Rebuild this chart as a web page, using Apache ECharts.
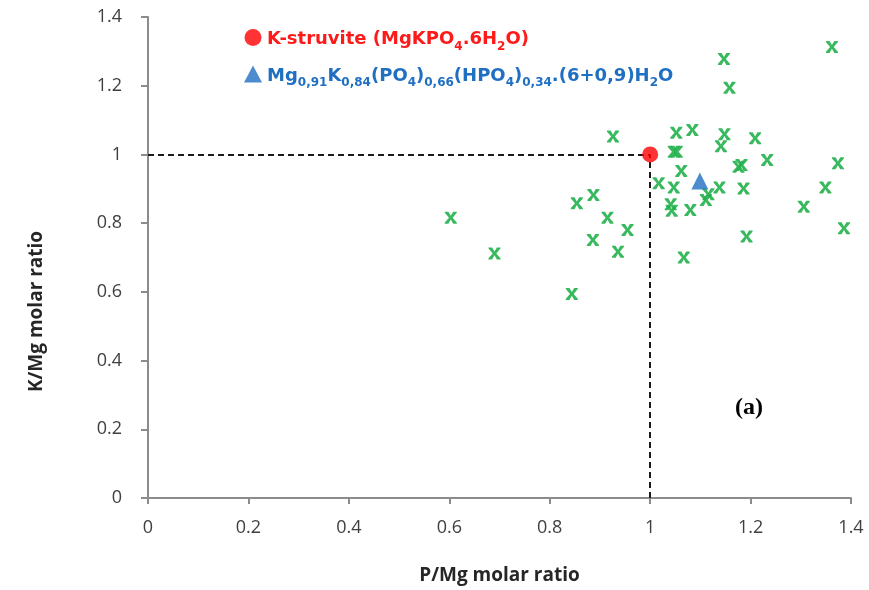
<!DOCTYPE html>
<html>
<head>
<meta charset="utf-8">
<script src="https://cdn.jsdelivr.net/npm/echarts@6/dist/echarts.min.js"></script>
<style>html,body{margin:0;padding:0;background:#fff}#c{width:869px;height:590px}</style>
</head>
<body>
<div id="c"></div>
<script>
// Data
var xTicks = [0, 0.2, 0.4, 0.6, 0.8, 1, 1.2, 1.4];
var yTicks = [0, 0.2, 0.4, 0.6, 0.8, 1, 1.2, 1.4];
var samplesPMg = [0.603,0.690,0.844,0.854,0.887,0.886,0.915,0.936,0.955,0.926,1.017,1.047,1.041,1.043,1.080,1.062,1.047,1.053,1.052,1.084,1.148,1.141,1.147,1.158,1.362,1.209,1.233,1.176,1.182,1.374,1.138,1.186,1.116,1.111,1.349,1.306,1.386,1.192,1.067];
var samplesKMg = [0.816,0.712,0.594,0.858,0.882,0.751,0.816,0.717,0.780,1.052,0.916,0.904,0.855,0.836,0.838,0.952,1.008,1.008,1.063,1.071,1.059,1.024,1.278,1.194,1.313,1.047,0.984,0.964,0.969,0.974,0.904,0.901,0.884,0.867,0.904,0.848,0.785,0.761,0.700];
var struvitePoint = [1.0, 1.0];
var mgPhasePoint = [1.099, 0.923];
var refLineH = [[0, 1], [1, 1]];
var refLineV = [[1, 0], [1, 1]];

var sampleData = samplesPMg.map(function (x, i) { return [x, samplesKMg[i]]; });

var xPath = 'path://M0,0 L3,0 L5,3.5 L7,0 L10,0 L10,1 L6.5,5 L10,9 L10,10 L7,10 L5,6.5 L3,10 L0,10 L0,9 L3.5,5 L0,1 Z';
var legFont = '"DejaVu Sans", Verdana, sans-serif';
var axFont = '"Open Sans", "Liberation Sans", sans-serif';

var chart = echarts.init(document.getElementById('c'));
chart.setOption({
  animation: false,
  backgroundColor: '#ffffff',
  grid: { left: 148, right: 18, top: 17, bottom: 92, containLabel: false },
  xAxis: {
    type: 'value', min: 0, max: 1.4, interval: 0.2,
    name: 'P/Mg molar ratio', nameLocation: 'middle', nameGap: 68,
    nameTextStyle: { fontFamily: axFont, fontSize: 19, fontWeight: 'bold', color: '#262626' },
    axisLine: { lineStyle: { color: '#8c8c8c', width: 2 } },
    axisTick: { show: true, length: 6, lineStyle: { color: '#8c8c8c', width: 2 } },
    axisLabel: { fontFamily: axFont, fontSize: 18, color: '#404040', margin: 21,
      formatter: function (v) { return String(+v.toFixed(1)); } },
    splitLine: { show: false }
  },
  yAxis: {
    type: 'value', min: 0, max: 1.4, interval: 0.2,
    name: 'K/Mg molar ratio', nameLocation: 'middle', nameGap: 102,
    nameTextStyle: { fontFamily: axFont, fontSize: 19, fontWeight: 'bold', color: '#262626', padding: [0, 108, 0, 0] },
    axisLine: { show: true, lineStyle: { color: '#8c8c8c', width: 2 } },
    axisTick: { show: true, length: 7, lineStyle: { color: '#8c8c8c', width: 2 } },
    axisLabel: { fontFamily: axFont, fontSize: 18, color: '#404040', margin: 26,
      formatter: function (v) { return String(+v.toFixed(1)); } },
    splitLine: { show: false }
  },
  legend: {
    orient: 'vertical', left: 239, top: 24, itemGap: 13, itemWidth: 18, itemHeight: 17,
    data: [
      { name: 'ks', icon: 'circle' },
      { name: 'mg', icon: 'triangle' }
    ],
    formatter: function (name) {
      if (name === 'ks') return '{r|K-struvite (MgKPO}{rs|4}{r|.6H}{rs|2}{r|O)}';
      return '{b|Mg}{bs|0,91}{b|K}{bs|0,84}{b|(PO}{bs|4}{b|)}{bs|0,66}{b|(HPO}{bs|4}{b|)}{bs|0,34}{b|.(6+0,9)H}{bs|2}{b|O}';
    },
    textStyle: {
      rich: {
        r: { color: '#ff1a1a', fontFamily: legFont, fontSize: 18, fontWeight: 'bold', lineHeight: 22, verticalAlign: 'bottom' },
        rs: { color: '#ff1a1a', fontFamily: legFont, fontSize: 12, fontWeight: 'bold', lineHeight: 22, verticalAlign: 'bottom', padding: [0, 0, -4, 0] },
        b: { color: '#1f6fc2', fontFamily: legFont, fontSize: 18, fontWeight: 'bold', lineHeight: 22, verticalAlign: 'bottom' },
        bs: { color: '#1f6fc2', fontFamily: legFont, fontSize: 12, fontWeight: 'bold', lineHeight: 22, verticalAlign: 'bottom', padding: [0, 0, -4, 0] }
      }
    }
  },
  graphic: [
    { type: 'text', left: 735, top: 396, style: { text: '(a)', font: 'bold 24px "Liberation Serif", "Times New Roman", serif', fill: '#000' } }
  ],
  series: [
    {
      name: 'samples', type: 'scatter', data: sampleData,
      symbol: xPath, symbolSize: [12, 12],
      itemStyle: { color: '#22b14c', opacity: 0.9 },
      z: 3
    },
    {
      name: 'ks', type: 'scatter', data: [struvitePoint],
      symbol: 'circle', symbolSize: 16,
      itemStyle: { color: '#ff0000' },
      z: 5,
      markLine: {
        silent: true, symbol: ['none', 'none'],
        lineStyle: { color: '#1a1a1a', type: [6, 4], width: 2 },
        label: { show: false },
        data: [
          [{ coord: refLineH[0] }, { coord: refLineH[1] }],
          [{ coord: refLineV[0] }, { coord: refLineV[1] }]
        ]
      }
    },
    {
      name: 'mg', type: 'scatter', data: [mgPhasePoint],
      symbol: 'triangle', symbolSize: 17,
      itemStyle: { color: '#1f6fc2' },
      z: 4
    }
  ]
});
</script>
</body>
</html>
